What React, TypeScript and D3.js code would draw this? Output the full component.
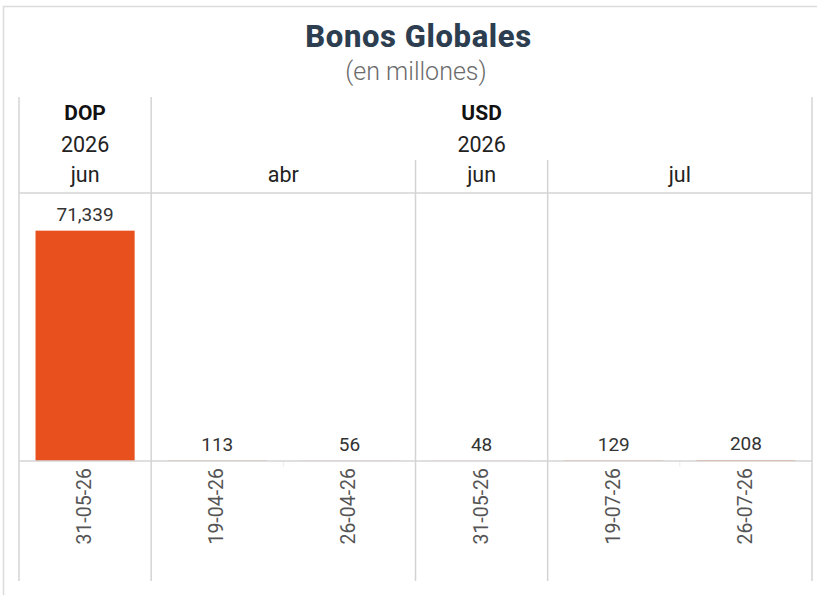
import React from 'react';
import * as d3 from 'd3';

const title = 'Bonos Globales';
const subtitle = '(en millones)';
const dates = ['31-05-26', '19-04-26', '26-04-26', '31-05-26', '19-07-26', '26-07-26'];
const currencyOf = ['DOP', 'USD', 'USD', 'USD', 'USD', 'USD'];
const yearOf = ['2026', '2026', '2026', '2026', '2026', '2026'];
const monthOf = ['jun', 'abr', 'abr', 'jun', 'jul', 'jul'];
const values = [71339, 113, 56, 48, 129, 208];
const yMax = 83000;

const W = 817;
const H = 595;
const left = 19;
const right = 812;
const headerTop = 97;
const plotTop = 193;
const plotBottom = 461;
const gridBottom = 581;

type Group = { key: string; start: number; end: number };

function groupsBy(keys: string[]): Group[] {
  const out: Group[] = [];
  keys.forEach((k, i) => {
    const last = out[out.length - 1];
    if (last && last.key === k) last.end = i;
    else out.push({ key: k, start: i, end: i });
  });
  return out;
}

export default function App() {
  const idx = dates.map((_, i) => String(i));
  const x = d3.scaleBand<string>().domain(idx).range([left, right]).paddingInner(0).paddingOuter(0);
  const y = d3.scaleLinear().domain([0, yMax]).range([plotBottom, plotTop]);
  const bw = x.bandwidth();
  const barW = bw * 0.75;
  const fmt = d3.format(',');

  const curGroups = groupsBy(currencyOf);
  const yearGroups = groupsBy(currencyOf.map((c, i) => c + '|' + yearOf[i]));
  const monthGroups = groupsBy(currencyOf.map((c, i) => c + '|' + yearOf[i] + '|' + monthOf[i]));

  const gx0 = (g: Group) => x(String(g.start))!;
  const gx1 = (g: Group) => x(String(g.end))! + bw;
  const gcx = (g: Group) => (gx0(g) + gx1(g)) / 2;

  const gridColor = '#d4d4d4';
  const font = 'Roboto, "Noto Sans", sans-serif';

  const curBounds = [left, ...curGroups.map(gx1)];
  const monthBounds = monthGroups.slice(0, -1).map(gx1).filter((b) => !curBounds.some((c) => Math.abs(c - b) < 0.5));
  const catBounds = idx.slice(0, -1).map((k) => x(k)! + bw).filter(
    (b) => !curBounds.some((c) => Math.abs(c - b) < 0.5) && !monthBounds.some((c) => Math.abs(c - b) < 0.5)
  );

  return (
    <svg width={W} height={H} style={{ position: 'absolute', left: 0, top: 0, background: '#fff' }} fontFamily={font}>
      <rect x={3.5} y={6.5} width={W + 20} height={H + 20} fill="#fff" stroke="#dcdcdc" strokeWidth={1.5} />
      <text x={418.5} y={47} textAnchor="middle" fontSize={31} fontWeight={800} fill="#2c3e50" letterSpacing={0.6}>
        {title}
      </text>
      <text x={416} y={80} textAnchor="middle" fontSize={25} fontWeight={300} fill="#6b6b6b">
        {subtitle}
      </text>

      {curBounds.map((b, i) => (
        <line key={'cb' + i} x1={b} x2={b} y1={headerTop} y2={gridBottom} stroke={gridColor} strokeWidth={1.5} />
      ))}
      {monthBounds.map((b, i) => (
        <line key={'mb' + i} x1={b} x2={b} y1={160} y2={gridBottom} stroke={gridColor} strokeWidth={1.5} />
      ))}
      {catBounds.map((b, i) => (
        <line key={'kb' + i} x1={b} x2={b} y1={plotBottom} y2={plotBottom + 6} stroke="#ececec" strokeWidth={1} />
      ))}
      <line x1={left} x2={right} y1={plotTop} y2={plotTop} stroke={gridColor} strokeWidth={1.5} />

      {curGroups.map((g, i) => (
        <text key={'c' + i} x={gcx(g)} y={120} textAnchor="middle" fontSize={21} fontWeight={700} fill="#111">
          {g.key}
        </text>
      ))}
      {yearGroups.map((g, i) => (
        <text key={'y' + i} x={gcx(g)} y={152} textAnchor="middle" fontSize={21.5} fill="#222">
          {yearOf[g.start]}
        </text>
      ))}
      {monthGroups.map((g, i) => (
        <text key={'m' + i} x={gcx(g)} y={182} textAnchor="middle" fontSize={21.5} fill="#222">
          {monthOf[g.start]}
        </text>
      ))}

      {values.map((v, i) => {
        const cx = x(String(i))! + bw / 2;
        return (
          <g key={'b' + i}>
            <rect x={cx - barW / 2} y={y(v)} width={barW} height={plotBottom - y(v)} fill="#e8511e" />
            <text x={cx} y={y(v) - 10} textAnchor="middle" fontSize={19} fill="#333">
              {fmt(v)}
            </text>
            <text
              transform={`translate(${cx + 6},${plotBottom + 7}) rotate(-90)`}
              textAnchor="end"
              fontSize={19.5}
              fill="#555"
            >
              {dates[i]}
            </text>
          </g>
        );
      })}
      <line x1={left} x2={right} y1={plotBottom} y2={plotBottom} stroke={gridColor} strokeWidth={1.5} />
    </svg>
  );
}
